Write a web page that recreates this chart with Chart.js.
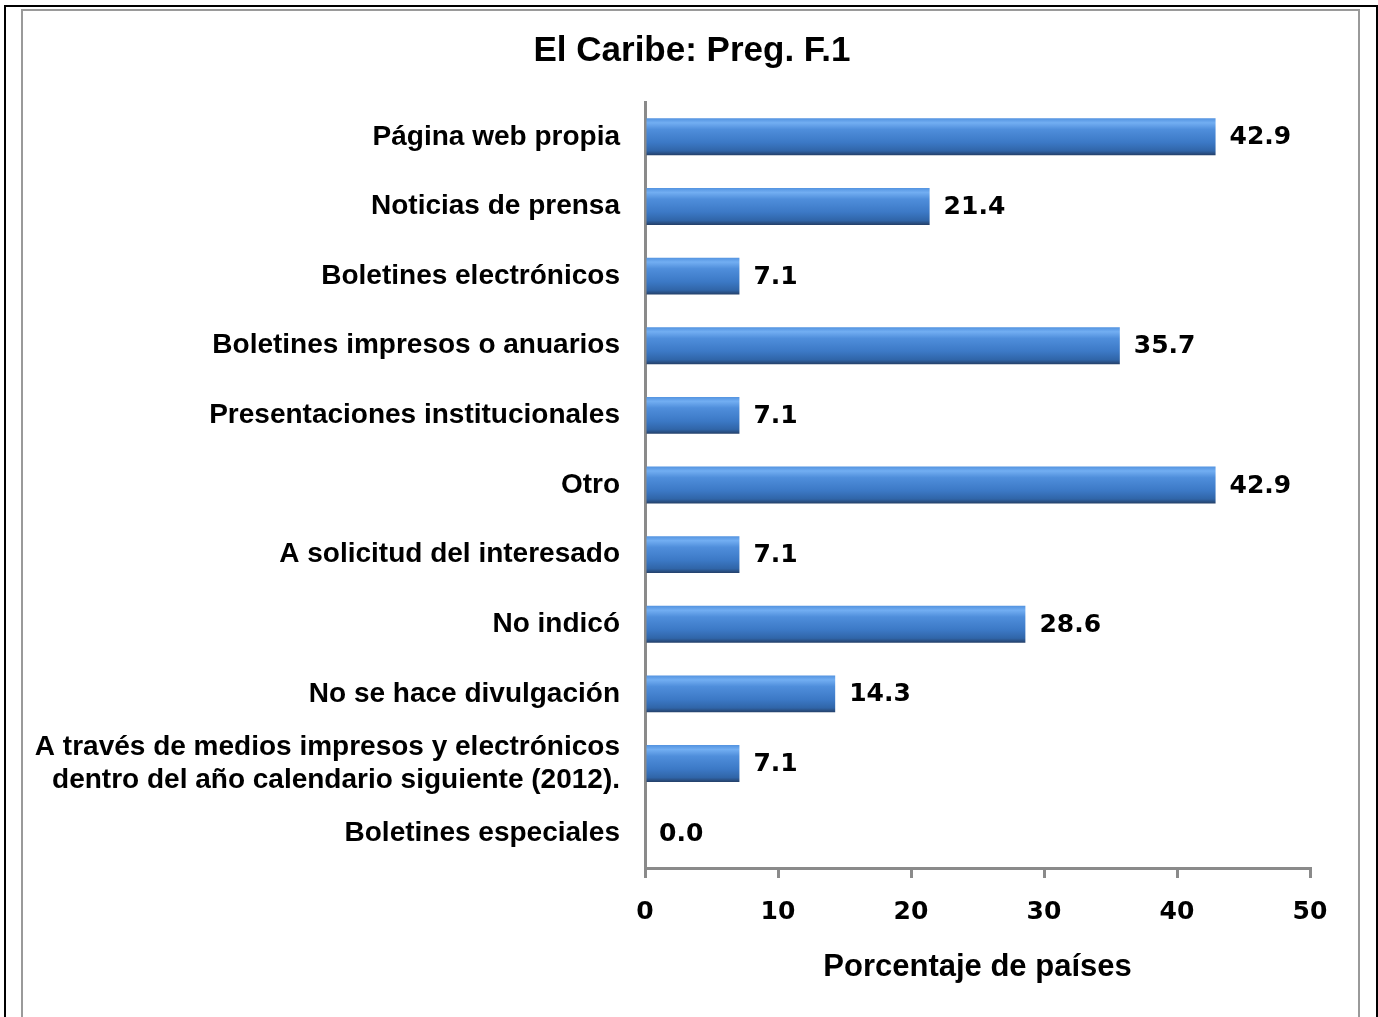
<!DOCTYPE html>
<html>
<head>
<meta charset="utf-8">
<script src="https://cdn.jsdelivr.net/npm/chart.js@4"></script>
<style>
    body { margin: 0; background: #fff; }
    #wrap { position: relative; width: 1378px; height: 1017px; overflow: hidden; }
    #chart { position: absolute; left: 0; top: 0; }
    .outer { position: absolute; left: 4px; top: 5px; width: 1370px; height: 1100px; border: 2px solid #000; }
    .inner { position: absolute; left: 21px; top: 9px; width: 1335px; height: 1100px; border: 2px solid #9a9a9a; }
</style>
</head>
<body>
<div id="wrap">
    <canvas id="chart" width="1378" height="1017"></canvas>
    <div class="outer"></div>
    <div class="inner"></div>
</div>
<script>
var categories = [
    'Página web propia',
    'Noticias de prensa',
    'Boletines electrónicos',
    'Boletines impresos o anuarios',
    'Presentaciones institucionales',
    'Otro',
    'A solicitud del interesado',
    'No indicó',
    'No se hace divulgación',
    ['A través de medios impresos y electrónicos', 'dentro del año calendario siguiente (2012).'],
    'Boletines especiales'
];
var percentages = [42.9, 21.4, 7.1, 35.7, 7.1, 42.9, 7.1, 28.6, 14.3, 7.1, 0.0];
var xTicks = [0, 10, 20, 30, 40, 50];

var barPct = 0.53;
var axisGray = '#8a8a8a';
var labelFont = '"Liberation Sans", Arial, sans-serif';
var numFont = '"DejaVu Sans", sans-serif';

// vertical shading for each bar, taken from the y scale position
function barFill(context) {
    var chart = context.chart;
    var yScale = chart.scales.y;
    if (!yScale || !yScale.height) {
        return '#3b78c6';
    }
    var cy = yScale.getPixelForValue(context.dataIndex);
    var h = yScale.height / categories.length * barPct;
    var g = chart.ctx.createLinearGradient(0, cy - h / 2, 0, cy + h / 2);
    g.addColorStop(0, '#5393e0');
    g.addColorStop(0.12, '#72aef2');
    g.addColorStop(0.3, '#4f8edb');
    g.addColorStop(0.65, '#3c79c6');
    g.addColorStop(0.88, '#3065a8');
    g.addColorStop(1, '#243f68');
    return g;
}

var valueLabels = {
    id: 'valueLabels',
    afterDatasetsDraw: function (chart) {
        var ctx = chart.ctx;
        var meta = chart.getDatasetMeta(0);
        ctx.save();
        ctx.font = 'bold 25px ' + numFont;
        ctx.fillStyle = '#000';
        ctx.textAlign = 'left';
        ctx.textBaseline = 'middle';
        meta.data.forEach(function (bar, i) {
            ctx.fillText(percentages[i].toFixed(1), bar.x + 14, bar.y + 1);
        });
        ctx.restore();
    }
};

new Chart(document.getElementById('chart').getContext('2d'), {
    type: 'bar',
    data: {
        labels: categories,
        datasets: [{
            label: 'Porcentaje de países',
            data: percentages,
            backgroundColor: barFill,
            borderWidth: 0,
            barPercentage: barPct,
            categoryPercentage: 1
        }]
    },
    options: {
        indexAxis: 'y',
        responsive: false,
        animation: false,
        layout: { padding: { left: 6, right: 0, top: 0, bottom: 0 } },
        plugins: {
            legend: { display: false },
            tooltip: { enabled: false },
            title: {
                display: true,
                text: 'El Caribe: Preg. F.1',
                color: '#000',
                font: { family: labelFont, size: 35, weight: 'bold', lineHeight: 1.2 },
                padding: { top: 30, bottom: 30 }
            }
        },
        scales: {
            x: {
                min: 0,
                max: 50,
                afterFit: function (scale) { scale.height = 149; },
                afterBuildTicks: function (scale) {
                    scale.ticks = xTicks.map(function (v) { return { value: v }; });
                },
                border: { display: true, color: axisGray, width: 3 },
                grid: { drawOnChartArea: false, drawTicks: true, tickLength: 10, color: axisGray, lineWidth: 3 },
                ticks: {
                    color: '#000',
                    padding: 19,
                    font: { family: numFont, size: 25, weight: 'bold' }
                },
                title: {
                    display: true,
                    text: 'Porcentaje de países',
                    color: '#000',
                    font: { family: labelFont, size: 31, weight: 'bold', lineHeight: 1.2 },
                    padding: { top: 0, bottom: 31 }
                }
            },
            y: {
                afterFit: function (scale) { scale.width = 639; },
                border: { display: true, color: axisGray, width: 3 },
                grid: { display: true, drawOnChartArea: false, drawTicks: false },
                ticks: {
                    color: '#000',
                    padding: 25,
                    font: { family: labelFont, size: 28, weight: 'bold', lineHeight: 1.17 }
                }
            },
            // empty room on the right of the plot
            yRight: {
                type: 'category',
                position: 'right',
                afterFit: function (scale) { scale.width = 68; },
                border: { display: false },
                grid: { display: false },
                ticks: { display: false }
            }
        }
    },
    plugins: [valueLabels]
});
</script>
</body>
</html>
